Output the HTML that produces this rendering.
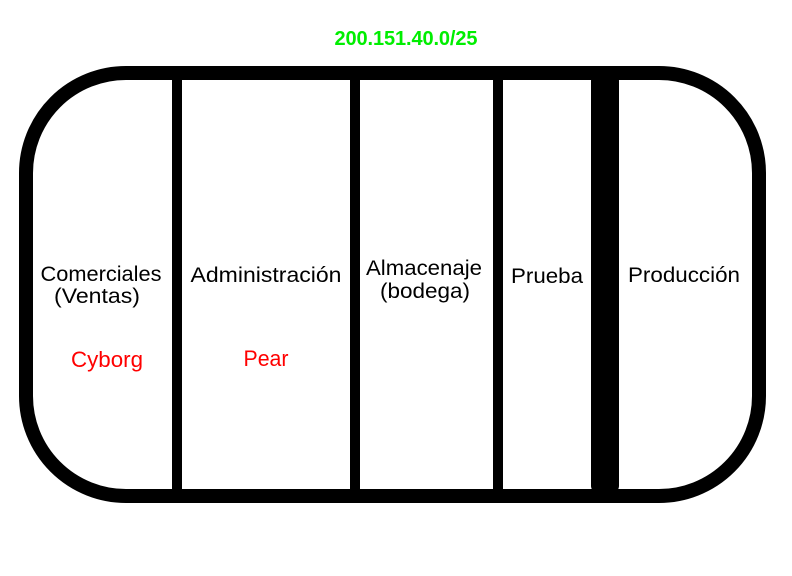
<!DOCTYPE html>
<html><head><meta charset="utf-8"><style>
html,body{margin:0;padding:0;background:#fff;width:792px;height:576px;overflow:hidden}
svg{display:block}
text{font-family:"Liberation Sans",sans-serif}
</style></head><body>
<svg width="792" height="576" viewBox="0 0 792 576">
<rect x="26" y="73" width="733" height="423" rx="100" ry="100" fill="none" stroke="#000" stroke-width="14"/>
<rect x="172" y="75" width="10" height="420" fill="#000"/>
<rect x="350" y="75" width="10" height="420" fill="#000"/>
<rect x="493" y="75" width="10" height="420" fill="#000"/>
<rect x="591" y="75" width="28" height="417" rx="6" fill="#000"/>
<text x="406" y="45" text-anchor="middle" font-size="20" font-weight="bold" fill="#00ee00" textLength="143">200.151.40.0/25</text>
<g font-size="21" fill="#000" text-anchor="middle">
<text x="101" y="281" textLength="121" lengthAdjust="spacingAndGlyphs">Comerciales</text>
<text x="97" y="303" textLength="86" lengthAdjust="spacingAndGlyphs">(Ventas)</text>
<text x="266" y="282" textLength="151" lengthAdjust="spacingAndGlyphs">Administración</text>
<text x="424" y="275" textLength="116" lengthAdjust="spacingAndGlyphs">Almacenaje</text>
<text x="425" y="298" textLength="90" lengthAdjust="spacingAndGlyphs">(bodega)</text>
<text x="547" y="283" textLength="72" lengthAdjust="spacingAndGlyphs">Prueba</text>
<text x="684" y="282" textLength="112" lengthAdjust="spacingAndGlyphs">Producción</text>
</g>
<g font-size="22" fill="#ff0000" text-anchor="middle">
<text x="107" y="367" textLength="72" lengthAdjust="spacingAndGlyphs">Cyborg</text>
<text x="266" y="366" textLength="45" lengthAdjust="spacingAndGlyphs">Pear</text>
</g>
</svg>
</body></html>
